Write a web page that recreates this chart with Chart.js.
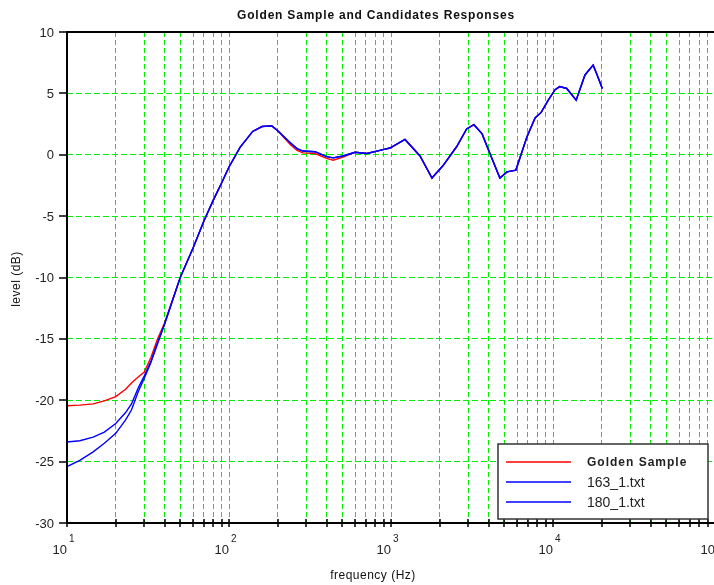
<!DOCTYPE html>
<html>
<head>
<meta charset="utf-8">
<title>Golden Sample and Candidates Responses</title>
<script src="https://cdn.jsdelivr.net/npm/chart.js@4.4.0/dist/chart.umd.min.js"></script>
<style>
    html, body { margin: 0; padding: 0; overflow: hidden; background: #fff; }
    canvas { display: block; }
</style>
</head>
<body>
<canvas id="responseChart" width="740" height="585"></canvas>
<script>
// === DATA ===
const freqs = [
    10, 12, 14.5, 17, 20, 23, 25, 27.5, 30, 33, 36, 40,
    50, 60, 70, 80, 90, 100, 117, 140, 160, 184, 200,
    238, 263, 286, 340, 400, 440, 505, 600, 710, 880, 985,
    1220, 1510, 1790, 2090, 2540, 2930, 3250, 3650, 4080,
    4700, 5200, 5900, 6900, 7750, 8450, 9350,
    10300, 11000, 12150, 13900, 15750, 17700, 18600, 20150,
];
const goldenSample = [
    -20.45, -20.4, -20.3, -20.05, -19.7, -19.1, -18.6, -18.1, -17.7, -16.5, -15.1, -13.7,
    -10.0, -7.6, -5.4, -3.7, -2.3, -1.0, 0.6, 1.9, 2.3, 2.35, 1.95,
    0.85, 0.35, 0.15, 0.1, -0.3, -0.45, -0.2, 0.2, 0.1, 0.4, 0.55,
    1.25, -0.1, -1.9, -0.9, 0.65, 2.1, 2.45, 1.7, 0.1,
    -1.9, -1.4, -1.25, 1.45, 3.0, 3.45, 4.45,
    5.3, 5.55, 5.4, 4.45, 6.5, 7.3, 6.6, 5.4,
];
const cand163 = [
    -23.4, -23.3, -23.0, -22.6, -21.9, -21.0, -20.3, -19.0, -18.0, -16.8, -15.4, -13.8,
    -10.0, -7.6, -5.4, -3.7, -2.3, -1.0, 0.6, 1.9, 2.3, 2.35, 1.95,
    1.0, 0.5, 0.3, 0.25, -0.15, -0.25, -0.1, 0.2, 0.1, 0.4, 0.55,
    1.25, -0.1, -1.9, -0.9, 0.65, 2.1, 2.45, 1.7, 0.1,
    -1.9, -1.4, -1.25, 1.45, 3.0, 3.45, 4.45,
    5.3, 5.55, 5.4, 4.45, 6.5, 7.3, 6.6, 5.4,
];
const cand180 = [
    -25.4, -24.9, -24.2, -23.5, -22.7, -21.6, -20.8, -19.3, -18.2, -16.9, -15.5, -13.8,
    -10.0, -7.6, -5.4, -3.7, -2.3, -1.0, 0.6, 1.9, 2.3, 2.35, 1.95,
    1.0, 0.5, 0.3, 0.25, -0.15, -0.25, -0.1, 0.2, 0.1, 0.4, 0.55,
    1.25, -0.1, -1.9, -0.9, 0.65, 2.1, 2.45, 1.7, 0.1,
    -1.9, -1.4, -1.25, 1.45, 3.0, 3.45, 4.45,
    5.3, 5.55, 5.4, 4.45, 6.5, 7.3, 6.6, 5.4,
];
const seriesLabels = ["Golden Sample", "163_1.txt", "180_1.txt"];
const levelTicks = [10, 5, 0, -5, -10, -15, -20, -25, -30];
const decadeExponents = [1, 2, 3, 4, 5];

// grid positions: 1..9 x each decade
const gridFreqs = [];
decadeExponents.forEach((e, i) => {
    if (i === decadeExponents.length - 1) { gridFreqs.push(10 ** e); return; }
    for (let m = 1; m <= 9; m++) gridFreqs.push(m * 10 ** e);
});

const GREEN = "#00ee00";
const FONT = "'Liberation Sans', Arial, sans-serif";
const toPoints = (ys) => freqs.map((f, i) => ({ x: f, y: ys[i] }));

// === FRAME, TICKS, LABELS, LEGEND ===
const framePlugin = {
    id: "frame",
    afterDraw(chart) {
        const { ctx, chartArea: a, scales: { x, y } } = chart;
        ctx.save();
        ctx.strokeStyle = "#000";
        ctx.lineWidth = 2;
        ctx.beginPath();
        ctx.moveTo(a.left, a.top); ctx.lineTo(a.right, a.top);
        ctx.moveTo(a.left, a.top - 1); ctx.lineTo(a.left, a.bottom + 1);
        ctx.moveTo(a.left, a.bottom); ctx.lineTo(a.right, a.bottom);
        ctx.moveTo(a.right, a.top); ctx.lineTo(a.right, a.bottom);
        ctx.stroke();

        // tick marks
        ctx.lineWidth = 1.5;
        ctx.beginPath();
        levelTicks.forEach((v) => {
            const py = Math.round(y.getPixelForValue(v));
            ctx.moveTo(a.left - 8, py); ctx.lineTo(a.left, py);
        });
        gridFreqs.forEach((f) => {
            const px = Math.round(x.getPixelForValue(f));
            ctx.moveTo(px, a.bottom - 4); ctx.lineTo(px, a.bottom + 4);
        });
        ctx.stroke();

        // y tick labels
        ctx.fillStyle = "#222";
        ctx.font = "13px " + FONT;
        ctx.textAlign = "right";
        ctx.textBaseline = "middle";
        levelTicks.forEach((v) => {
            ctx.fillText(String(v), a.left - 13, y.getPixelForValue(v) + 1);
        });

        // x tick labels: 10 with exponent
        decadeExponents.forEach((e) => {
            const px = x.getPixelForValue(10 ** e);
            ctx.font = "13px " + FONT;
            ctx.textAlign = "right";
            ctx.fillText("10", px, a.bottom + 27);
            ctx.font = "10px " + FONT;
            ctx.textAlign = "left";
            ctx.fillText(String(e), px + 2, a.bottom + 16);
        });

        // titles
        ctx.fillStyle = "#111";
        ctx.textAlign = "center";
        ctx.font = "bold 12px " + FONT;
        ctx.letterSpacing = "0.8px";
        ctx.fillText("Golden Sample and Candidates Responses", 376, 16);
        ctx.font = "12px " + FONT;
        ctx.letterSpacing = "0.5px";
        ctx.fillText("frequency (Hz)", 373, 576);
        ctx.save();
        ctx.translate(17, 279);
        ctx.rotate(-Math.PI / 2);
        ctx.fillText("level (dB)", 0, 0);
        ctx.restore();
        ctx.letterSpacing = "0px";

        // legend box
        const lx = 498, ly = 444, lw = 210, lh = 75;
        ctx.fillStyle = "#fff";
        ctx.fillRect(lx, ly, lw, lh);
        ctx.strokeStyle = "#333";
        ctx.lineWidth = 1.5;
        ctx.strokeRect(lx, ly, lw, lh);
        chart.data.datasets.forEach((ds, i) => {
            const ry = ly + 18 + i * 20;
            ctx.strokeStyle = ds.borderColor;
            ctx.lineWidth = 1.5;
            ctx.beginPath();
            ctx.moveTo(lx + 8, ry); ctx.lineTo(lx + 73, ry);
            ctx.stroke();
            ctx.fillStyle = "#222";
            ctx.textAlign = "left";
            ctx.textBaseline = "middle";
            if (i === 0) {
                ctx.font = "bold 12px " + FONT;
                ctx.letterSpacing = "1px";
            } else {
                ctx.font = "14px " + FONT;
                ctx.letterSpacing = "0px";
            }
            ctx.fillText(ds.label, lx + 89, ry + 1);
        });
        ctx.letterSpacing = "0px";
        ctx.restore();
    },
};

const ctxResp = document.getElementById("responseChart").getContext("2d");
new Chart(ctxResp, {
    type: "line",
    data: {
        datasets: [
            { label: seriesLabels[0], data: toPoints(goldenSample), borderColor: "#ff0000", order: 1 },
            { label: seriesLabels[1], data: toPoints(cand163), borderColor: "#0000ff", order: 0 },
            { label: seriesLabels[2], data: toPoints(cand180), borderColor: "#0000ff", order: 0 },
        ],
    },
    options: {
        responsive: false,
        animation: false,
        devicePixelRatio: 1,
        layout: { padding: { left: 67, right: 25, top: 32, bottom: 62 } },
        plugins: {
            legend: { display: false },
            title: { display: false },
            tooltip: { enabled: false },
        },
        elements: {
            point: { radius: 0 },
            line: { tension: 0, borderWidth: 1.4, fill: false },
        },
        scales: {
            x: {
                type: "logarithmic",
                min: 10,
                max: 100000,
                afterBuildTicks: (scale) => {
                    scale.ticks = gridFreqs.map((v) => ({ value: v }));
                },
                ticks: { display: false, autoSkip: false },
                grid: { color: GREEN, lineWidth: 1, drawTicks: false },
                border: { display: false, dash: [5, 3] },
            },
            y: {
                min: -30,
                max: 10,
                ticks: { display: false, stepSize: 5 },
                grid: { color: GREEN, lineWidth: 1, drawTicks: false },
                border: { display: false, dash: [6, 3] },
            },
        },
    },
    plugins: [framePlugin],
});
</script>
</body>
</html>
